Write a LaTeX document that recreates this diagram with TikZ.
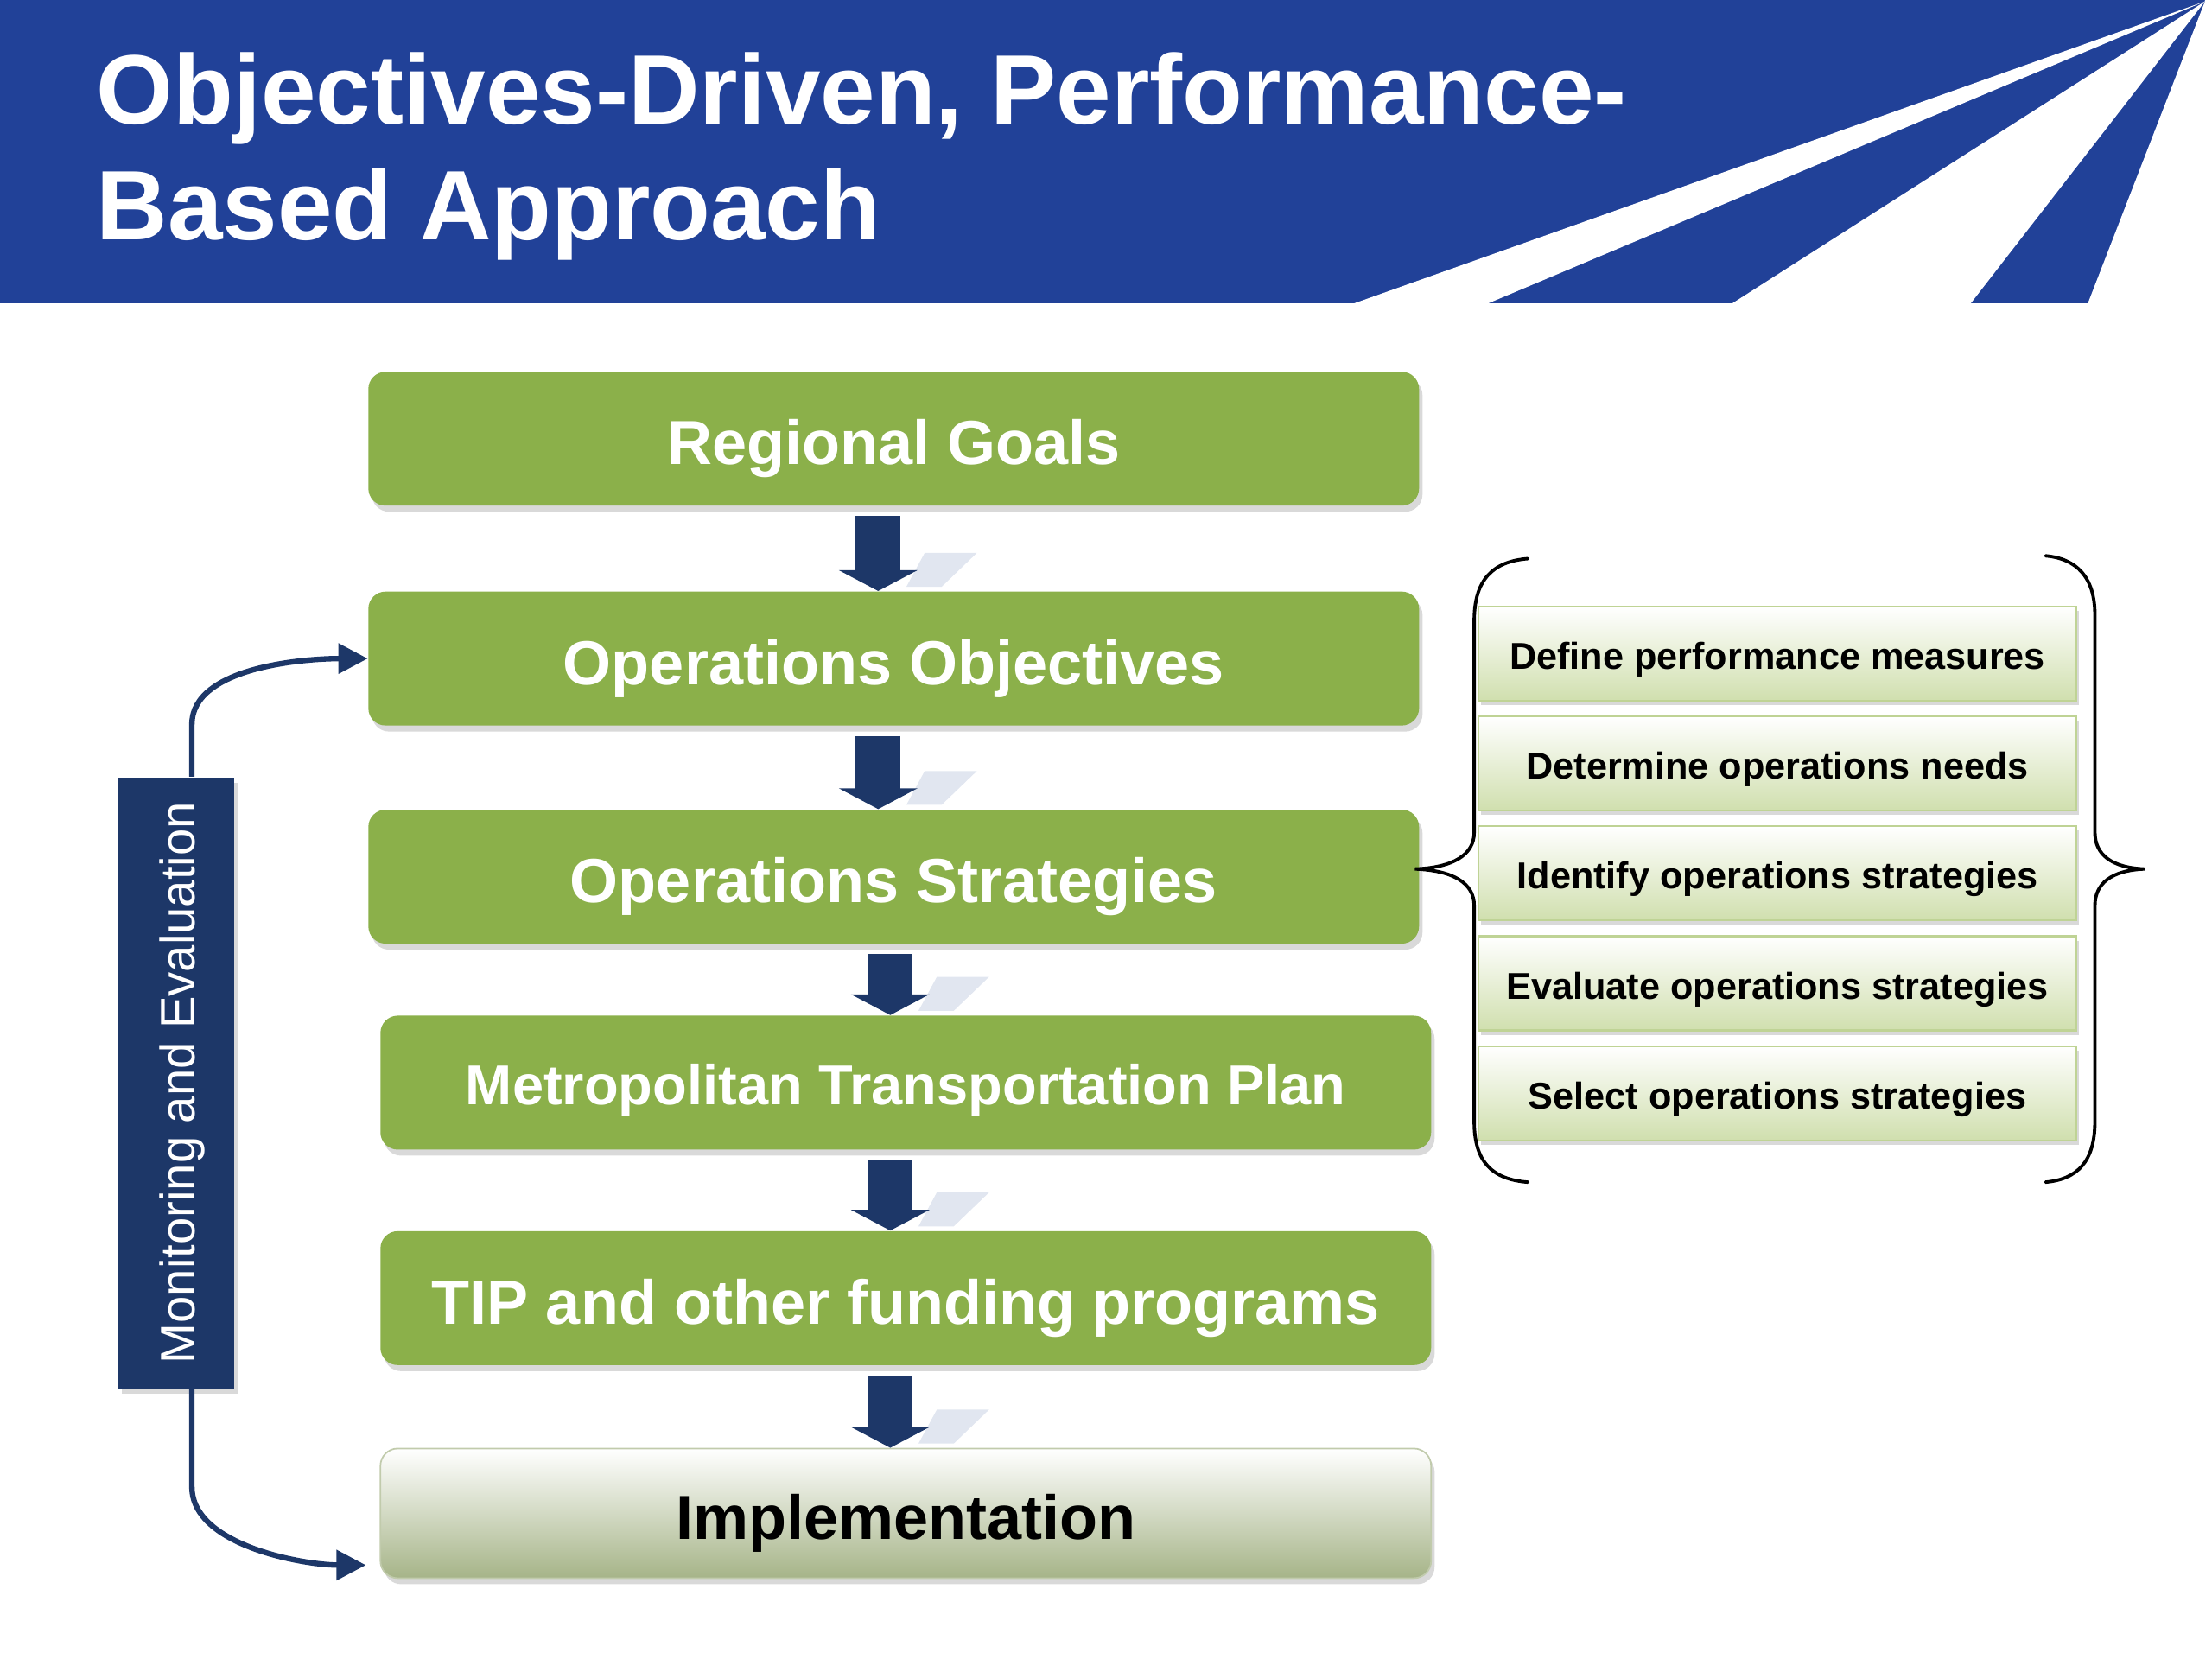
\documentclass[tikz,border=0pt]{standalone}
\usepackage{fontspec}
\setmainfont{Liberation Sans}
\usetikzlibrary{arrows.meta,positioning,shadows,calc}

\definecolor{bannerblue}{RGB}{33,65,152}
\definecolor{stagegreen}{RGB}{139,176,74}
\definecolor{navy}{RGB}{29,55,104}
\definecolor{taskgreen}{RGB}{208,223,174}
\definecolor{implgray}{RGB}{166,180,136}
\definecolor{shadeblue}{RGB}{225,230,240}

\begin{document}
\begin{tikzpicture}[x=0.16327mm,y=0.16327mm,
  headline/.style={anchor=base west,inner sep=0pt,text=white,font=\bfseries\fontsize{32.5}{39}\selectfont},
  stage/.style={fill=stagegreen,rounded corners=2mm,minimum width=121.6mm,minimum height=15.5mm,
    inner sep=0pt,text height=6mm,text depth=0pt,text=white,font=\bfseries\fontsize{20.5}{24}\selectfont,
    drop shadow={shadow xshift=.4mm,shadow yshift=-.7mm,opacity=.3}},
  task/.style={draw=taskgreen!75!stagegreen,line width=.6pt,top color=white,bottom color=taskgreen,
    minimum width=69.2mm,minimum height=10.9mm,inner sep=0pt,text height=3.6mm,text depth=0pt,
    font=\bfseries\fontsize{12.3}{14}\selectfont,
    drop shadow={shadow xshift=.3mm,shadow yshift=-.5mm,opacity=.3}},
  flow/.style={navy,line width=5.2mm,-{Triangle[width=9mm,length=2.4mm]}},
  loopback/.style={navy,line width=1.8pt,-{Triangle[width=3.4mm,length=3.4mm]}},
  bracket/.style={line width=1.1pt,line cap=round}]
  \useasboundingbox (0,0) rectangle (1568,1176);

  % banner with stripes
  \fill[bannerblue] (0,961) rectangle (1568,1176);
  \coordinate (apex) at (1563,1175);
  \fill[white] (apex) -- (960,961) -- (1055,961) -- cycle;
  \fill[white] (apex) -- (1228,961) -- (1397,961) -- cycle;
  \fill[white] (apex) -- (1480,961) -- (1568,961) -- (1568,1176) -- (1563,1176) -- cycle;
  \node[headline] (title1) at (68,1088) {Objectives-Driven, Performance-};
  \node[headline] (title2) at (68,1006) {Based Approach};

  % main chain
  \node[stage] (goals) at (633.5,865) {Regional Goals};
  \node[stage,below=9.8mm of goals] (objectives) {Operations Objectives};
  \node[stage,below=9.6mm of objectives] (strategies) {Operations Strategies};
  \node[stage,below=8.2mm of strategies,xshift=1.4mm,
    font=\bfseries\fontsize{18.5}{22}\selectfont,text height=5.2mm] (mtp) {Metropolitan Transportation Plan};
  \node[stage,below=9.3mm of mtp] (tip) {TIP and other funding programs};
  \node[stage,below=9.5mm of tip,minimum height=15mm,top color=white,middle color=implgray!45,
    bottom color=implgray,draw=implgray!70,line width=.5pt,text=black] (impl) {Implementation};

  \foreach \from/\to in {goals/objectives,objectives/strategies,strategies/mtp,mtp/tip,tip/impl}{
    \fill[shadeblue] ($(\to.north)+(9,3)$) -- ++(25,0) -- ++(25,24) -- ++(-37,0) -- cycle;
    \draw[flow] ($(\from.south -| \to.north)+(-11,-7)$) -- ($(\to.north)+(-11,0)$);
  }

  % monitoring loop
  \node[fill=navy,rotate=90,minimum width=70.7mm,minimum height=13.4mm,inner sep=0pt,
    text height=4.3mm,text depth=0pt,text=white,font=\fontsize{16}{19}\selectfont,
    drop shadow={shadow xshift=.4mm,shadow yshift=-.6mm,opacity=.3}] (mon) at (125,408.5)
    {Monitoring and Evaluation};
  \draw[loopback] ([xshift=1.8mm]mon.east) -- ++(0,37)
    to[out=90,in=180,looseness=.8] (objectives.west);
  \draw[loopback] ([xshift=1.8mm]mon.west) -- ++(0,-69.5)
    to[out=-90,in=180,looseness=.8] ([xshift=-1.6mm,yshift=1.6mm]impl.south west);

  % strategy steps
  \node[task] (measures) at (1260,712.5) {Define performance measures};
  \node[task,below=1.6mm of measures] (needs) {Determine operations needs};
  \node[task,below=1.6mm of needs] (identify) {Identify operations strategies};
  \node[task,below=1.6mm of identify] (evaluate) {Evaluate operations strategies};
  \node[task,below=1.6mm of evaluate] (select) {Select operations strategies};

  \draw[bracket] (1083,780) .. controls (1058,778) and (1045,765) .. (1045,736) -- (1045,586)
    .. controls (1045,570) and (1030,561) .. (1003,560)
    .. controls (1030,559) and (1045,550) .. (1045,534) -- (1045,381)
    .. controls (1045,352) and (1058,340) .. (1083,338);
  \draw[bracket] (1450,782) .. controls (1472,780) and (1485,767) .. (1485,740) -- (1485,586)
    .. controls (1485,570) and (1497,561) .. (1520,560)
    .. controls (1497,559) and (1485,550) .. (1485,534) -- (1485,381)
    .. controls (1485,352) and (1472,340) .. (1450,338);
\end{tikzpicture}
\end{document}
